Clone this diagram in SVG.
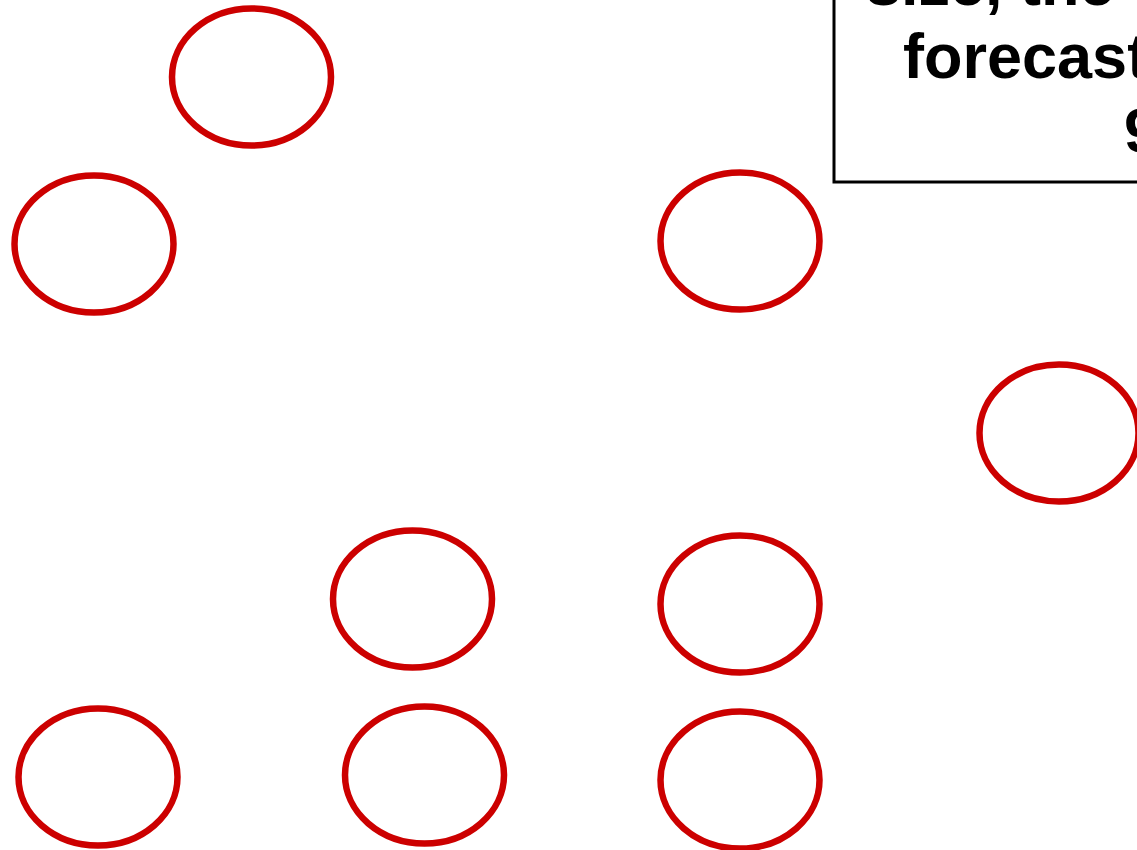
<svg xmlns="http://www.w3.org/2000/svg" width="1137" height="850" viewBox="0 0 1137 850">
<style>
.n{fill:none;stroke:#cc0000;stroke-width:6.5}
.box{fill:#ffffff;stroke:#000000;stroke-width:3}
.t{font-family:"Liberation Sans",Arial,sans-serif;font-weight:bold;font-size:63px;fill:#000000}
</style>
<rect width="1137" height="850" fill="#ffffff"/>
<g id="note">
<rect class="box" x="834" y="-20" width="330" height="202"/>
<text class="t" x="866" y="5">size, the</text>
<text class="t" x="903" y="78">forecast</text>
<text class="t" x="1124" y="152">9</text>
</g>
<g id="connectors"></g>
<g id="n1"><ellipse class="n" cx="251.5" cy="77" rx="79.5" ry="68.5"/></g>
<g id="n2"><ellipse class="n" cx="94" cy="244" rx="79.5" ry="68.5"/></g>
<g id="n3"><ellipse class="n" cx="740" cy="241" rx="79.5" ry="68.5"/></g>
<g id="n4"><ellipse class="n" cx="1059" cy="433" rx="79.5" ry="68.5"/></g>
<g id="n5"><ellipse class="n" cx="412.5" cy="599" rx="79.5" ry="68.5"/></g>
<g id="n6"><ellipse class="n" cx="740" cy="604" rx="79.5" ry="68.5"/></g>
<g id="n7"><ellipse class="n" cx="98" cy="777" rx="79.5" ry="68.5"/></g>
<g id="n8"><ellipse class="n" cx="424.5" cy="775" rx="79.5" ry="68.5"/></g>
<g id="n9"><ellipse class="n" cx="740" cy="780" rx="79.5" ry="68.5"/></g>
</svg>
